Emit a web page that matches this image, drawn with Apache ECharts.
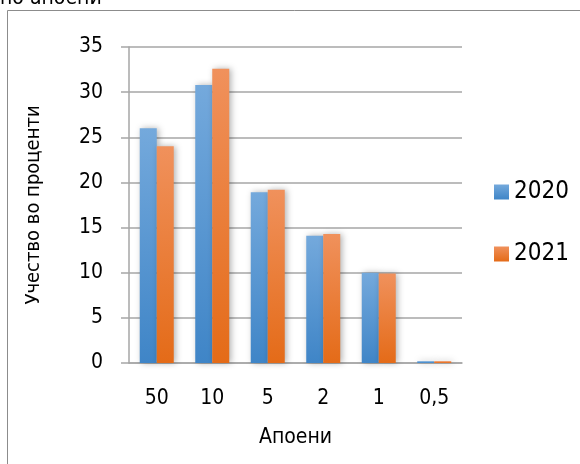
<!DOCTYPE html>
<html>
<head>
<meta charset="utf-8">
<title>Апоени</title>
<script src="https://cdn.jsdelivr.net/npm/echarts@6/dist/echarts.min.js"></script>
<style>
  html, body { margin: 0; padding: 0; background: #fff; }
  #chart { width: 580px; height: 464px; }
</style>
</head>
<body>
<div id="chart"></div>
<script>
// values
const denominations = ['50', '10', '5', '2', '1', '0,5'];
const years = ['2020', '2021'];
const share2020 = [26.0, 30.8, 18.9, 14.1, 10.0, 0.2];
const share2021 = [24.0, 32.6, 19.2, 14.3, 9.9, 0.2];
const yTicks = { min: 0, max: 35, interval: 5 };

const FONT = 'DejaVu Sans Condensed, DejaVu Sans';

function grad(top, bottom) {
  return new echarts.graphic.LinearGradient(0, 0, 0, 1, [
    { offset: 0, color: top },
    { offset: 1, color: bottom }
  ]);
}

var myChart = echarts.init(document.getElementById('chart'));

myChart.setOption({
  animation: false,
  backgroundColor: '#fff',
  textStyle: { fontFamily: FONT, color: '#000' },
  graphic: [
    {
      type: 'rect',
      shape: { x: 7.5, y: 10.5, width: 600, height: 500 },
      style: { fill: 'none', stroke: '#8c8c8c', lineWidth: 1 }
    },
    {
      type: 'text',
      left: 0,
      top: -12,
      style: { text: 'по апоени', fontFamily: FONT, fontSize: 21, fill: '#000' }
    }
  ],
  legend: {
    orient: 'vertical',
    left: 489,
    top: 175,
    itemWidth: 15,
    itemHeight: 15,
    itemGap: 38,
    icon: 'rect',
    textStyle: { fontFamily: FONT, fontSize: 24, color: '#000', padding: [0, 0, 0, 0] },
    data: years
  },
  grid: { left: 129, right: 118, top: 47, bottom: 101, containLabel: false },
  xAxis: {
    type: 'category',
    data: denominations,
    name: 'Апоени',
    nameLocation: 'middle',
    nameGap: 64,
    nameTextStyle: { fontFamily: FONT, fontSize: 21, color: '#000' },
    axisLine: { lineStyle: { color: '#a6a6a6', width: 1.5 } },
    axisTick: { show: false },
    axisLabel: { margin: 25, fontFamily: FONT, fontSize: 21, color: '#000' }
  },
  yAxis: {
    type: 'value',
    min: yTicks.min,
    max: yTicks.max,
    interval: yTicks.interval,
    name: 'Учество во проценти',
    nameLocation: 'middle',
    nameGap: 85,
    nameTextStyle: { fontFamily: FONT, fontSize: 20, color: '#000' },
    axisLine: { show: true, lineStyle: { color: '#a6a6a6', width: 1.5 } },
    axisTick: { show: true, length: 8, lineStyle: { color: '#a6a6a6', width: 1.5 } },
    splitLine: { lineStyle: { color: '#a6a6a6', width: 1.5 } },
    axisLabel: { margin: 26, fontFamily: FONT, fontSize: 21, color: '#000' }
  },
  series: [
    {
      name: years[0],
      type: 'bar',
      data: share2020,
      barWidth: 17,
      barGap: '0%',
      itemStyle: {
        color: grad('#74a9dc', '#3f85c7'),
        shadowColor: 'rgba(0,0,0,0.3)',
        shadowBlur: 6,
        shadowOffsetX: 2
      }
    },
    {
      name: years[1],
      type: 'bar',
      data: share2021,
      barWidth: 17,
      barGap: '0%',
      itemStyle: {
        color: grad('#f0915c', '#e46b18'),
        shadowColor: 'rgba(0,0,0,0.3)',
        shadowBlur: 6,
        shadowOffsetX: 2
      }
    }
  ]
});
</script>
</body>
</html>
